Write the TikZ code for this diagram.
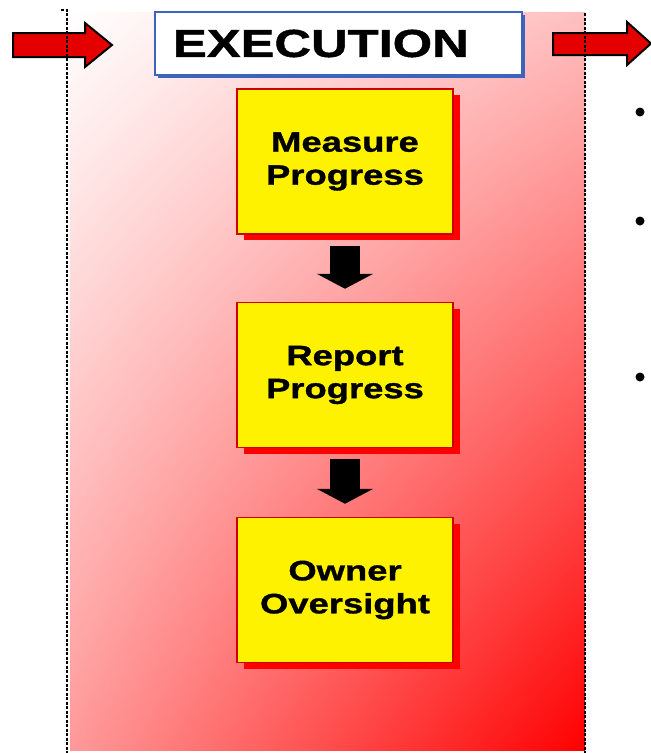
\documentclass[tikz,border=0pt]{standalone}
\usepackage{fontspec}
\newfontfamily\boxfont[FakeStretch=1.3,BoldFeatures={FakeBold=1.2}]{Liberation Sans}
\usetikzlibrary{arrows.meta,shadows,shadings}
\definecolor{execblue}{RGB}{60,100,190}

\begin{document}
\begin{tikzpicture}[x=1pt,y=-1pt,
    stepbox/.style={draw=red!80!black, line width=1.5pt, fill=yellow,
      minimum width=216pt, minimum height=145pt, align=center,
      font=\boxfont\bfseries\fontsize{28}{33}\selectfont,
      drop shadow={shadow xshift=7pt, shadow yshift=-6pt, fill=red, opacity=1}},
    execbox/.style={draw=execblue, line width=2.5pt, fill=white,
      minimum height=63pt, text width=331pt, inner xsep=18pt, align=left,
      font=\boxfont\bfseries\fontsize{39}{44}\selectfont,
      drop shadow={shadow xshift=2.5pt, shadow yshift=-2.5pt, fill=execblue, opacity=1}},
    downarrow/.style={line width=30pt, -{Triangle[length=15pt,width=56pt]},
      shorten <=11pt, shorten >=13pt},
    redarrow/.style={draw=black, line width=2pt, fill=red!90!black, line join=miter},
    bullet/.style={circle, fill=black, inner sep=0pt, minimum size=9pt}]
  \useasboundingbox (0,0) rectangle (651,753);
  \shade[upper left=white, upper right=red!25, lower left=red!40, lower right=red]
    (70,12) rectangle (585,750);
  \filldraw[redarrow] (13,33) -- (85,33) -- (85,23) -- (112,45) -- (85,67) -- (85,57) -- (13,57) -- cycle;
  \filldraw[redarrow] (553,33) -- (627,33) -- (627,22) -- (651,43.5) -- (627,65) -- (627,55) -- (553,55) -- cycle;
  \draw[line width=2.5pt, dash pattern=on 3pt off 1.5pt] (61,10) -- (67,10) -- (67,753);
  \draw[line width=1.5pt, dash pattern=on 3pt off 1.5pt] (585,13) -- (585,753);
  \node[execbox] (exec) at (338.5,43.5) {EXECUTION};
  \node[stepbox] (measure) at (345,161.5) {Measure\\Progress};
  \node[stepbox] (report) at (345,375) {Report\\Progress};
  \node[stepbox] (owner) at (345,590) {Owner\\Oversight};
  \draw[downarrow] (measure) -- (report);
  \draw[downarrow] (report) -- (owner);
  \node[bullet] (b1) at (640,112) {};
  \node[bullet] (b2) at (640,221) {};
  \node[bullet] (b3) at (640,377) {};
\end{tikzpicture}
\end{document}
